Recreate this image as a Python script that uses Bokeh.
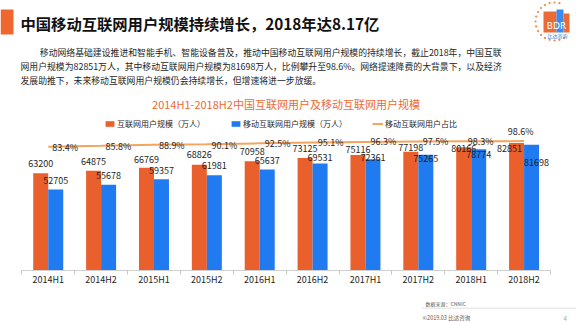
import numpy as np
from bokeh.plotting import figure
from bokeh.models import (Range1d, FixedTicker, ColumnDataSource, Legend, LegendItem)
from bokeh.core.properties import value
from bokeh.transform import dodge
from bokeh.layouts import column
from bokeh.embed import file_html
from bokeh.resources import INLINE

# ---------------- data ----------------
categories = ["2014H1", "2014H2", "2015H1", "2015H2", "2016H1",
              "2016H2", "2017H1", "2017H2", "2018H1", "2018H2"]
internet_users = [63200, 64875, 66769, 68826, 70958, 73125, 75116, 77198, 80166, 82851]
mobile_users = [52705, 55678, 59357, 61981, 65637, 69531, 72361, 75265, 78774, 81698]
mobile_share = [83.4, 85.8, 88.9, 90.1, 92.5, 95.1, 96.3, 97.5, 98.3, 98.6]

series_names = ["互联网用户规模（万人）", "移动互联网用户规模（万人）", "移动互联网用户占比"]
slide_title = "中国移动互联网用户规模持续增长，2018年达8.17亿"
paragraph = ["移动网络基础建设推进和智能手机、智能设备普及，推动中国移动互联网用户规模的持续增长，截止2018年，中国互联",
             "网用户规模为82851万人，其中移动互联网用户规模为81698万人，比例攀升至98.6%。网络提速降费的大背景下，以及经济",
             "发展助推下，未来移动互联网用户规模仍会持续增长，但增速将进一步放缓。"]
chart_title = "2014H1-2018H2中国互联网用户及移动互联网用户规模"
source_note = "数据来源：CNNIC"
copyright_note = "©2019.03  比达咨询"
page_no = "4"

# ---------------- label placement (style, screen px) ----------------
inet_dx = [0, 0, 0, 0, 0, 0, 0, 0, 0, -7]
inet_dy = [-10, -9, -8.7, -9.7, -10, -9.3, -5.7, -4.4, 1.5, 5.4]
mob_dx = [0, 0, 0, 0, 0, 0, 0, 0, 0, 5]
mob_dy = [-9, -9, -8.7, -9.3, -8.6, -5.7, -1.3, 3.3, 5.4, 17.7]
pct_dx = [17, 17.4, 17.8, 17.5, 18, 18, 17.9, 17.2, 9.4, -3.5]
pct_dy = [1, 0.5, 0.5, 0.8, 0, 0, 0, 0, 0.5, -10]

ORANGE = "#EA602D"
BLUE = "#1F7BEF"
LINE = "#F5A45D"
CJK = "Noto Sans CJK SC"
TXT = "#1e1e1e"

W = 576
MAIN_H = 295
FRAME_H = 270

# x: category k centred at k; px = 21.3 + 52.87*(k+0.5)
step = 52.87
x0 = -0.5 - 21.3 / step
x1 = x0 + W / step
ymax = FRAME_H / 0.001538
pct_top = 98.6 + 140.6 / 0.3684
pct_bot = pct_top - FRAME_H / 0.3684

p = figure(width=W, height=MAIN_H, output_backend="svg", toolbar_location=None,
           x_range=Range1d(x0, x1), y_range=Range1d(0, ymax),
           y_axis_location=None, min_border_left=0, min_border_right=0,
           min_border_top=0, min_border_bottom=MAIN_H - FRAME_H)
p.extra_y_ranges = {"pct": Range1d(pct_bot, pct_top), "pxy": Range1d(FRAME_H, 0)}
p.extra_x_ranges = {"px": Range1d(0, W)}
p.outline_line_color = None
p.xgrid.visible = False
p.ygrid.visible = False
p.background_fill_color = "white"
p.border_fill_color = "white"

idx = np.arange(len(categories))
src = ColumnDataSource(dict(
    x=idx, internet=internet_users, mobile=mobile_users, share=mobile_share,
    inet_lbl=[str(v) for v in internet_users], mob_lbl=[str(v) for v in mobile_users],
    pct_lbl=[f"{v:.1f}%" for v in mobile_share],
    inet_dx=inet_dx, inet_dy=inet_dy, mob_dx=mob_dx, mob_dy=mob_dy,
    pct_dx=pct_dx, pct_dy=pct_dy))

bw = 15.0 / step
r_inet = p.vbar(x=dodge("x", -bw / 2, range=p.x_range), top="internet", width=bw,
                fill_color=ORANGE, line_color=None, source=src)
r_mob = p.vbar(x=dodge("x", bw / 2, range=p.x_range), top="mobile", width=bw,
               fill_color=BLUE, line_color=None, source=src)
r_line = p.line(x="x", y="share", y_range_name="pct", line_color=LINE, line_width=2, source=src)

lbl_kw = dict(text_font=value(CJK), text_font_size="9px", text_color=TXT,
              text_align="center", text_baseline="middle", source=src)
p.text(x=dodge("x", -bw / 2, range=p.x_range), y="internet", text="inet_lbl",
       x_offset="inet_dx", y_offset="inet_dy", **lbl_kw)
p.text(x=dodge("x", bw / 2, range=p.x_range), y="mobile", text="mob_lbl",
       x_offset="mob_dx", y_offset="mob_dy", **lbl_kw)
p.text(x="x", y="share", y_range_name="pct", text="pct_lbl",
       x_offset="pct_dx", y_offset="pct_dy", **lbl_kw)

# x axis
ax = p.xaxis[0]
ax.ticker = FixedTicker(ticks=list(idx), minor_ticks=list(np.arange(len(categories) + 1) - 0.5))
ax.major_label_overrides = {int(i): c for i, c in zip(idx, categories)}
ax.bounds = (-0.5, len(categories) - 0.5)
ax.axis_line_color = "#D0D0D0"
ax.major_tick_in = 0
ax.major_tick_out = 0
ax.minor_tick_in = 0
ax.minor_tick_out = 4
ax.minor_tick_line_color = "#C8C8C8"
ax.major_label_text_font = CJK
ax.major_label_text_font_size = "9px"
ax.major_label_text_color = TXT
ax.major_label_standoff = -2

# legend
legend = Legend(items=[LegendItem(label=series_names[0], renderers=[r_inet]),
                       LegendItem(label=series_names[1], renderers=[r_mob]),
                       LegendItem(label=series_names[2], renderers=[r_line])],
                orientation="horizontal", location=(104, FRAME_H - 128.5),
                spacing=25, padding=0, margin=0, glyph_width=11, glyph_height=7,
                label_height=10, label_standoff=2, label_text_font=CJK,
                label_text_font_size="8px", label_text_color=TXT,
                border_line_color=None, background_fill_alpha=0)
p.add_layout(legend)

# slide header (px coordinates from top-left)
px = dict(x_range_name="px", y_range_name="pxy")
p.quad(left=[0], right=[13], top=[9], bottom=[34], fill_color="#F0662F", line_color=None, **px)
p.text(x=[20], y=[22.5], text=[slide_title], text_font=value(CJK), text_font_style="bold",
       text_font_size="15.3px", text_color="#111111", text_baseline="middle", **px)
p.text(x=[39.3, 20, 20], y=[51.7, 65.7, 80], text=paragraph, text_font=value(CJK),
       text_font_size="8.85px", text_color="#262626", text_baseline="middle", **px)
p.text(x=[285.5], y=[103.3], text=[chart_title], text_font=value(CJK),
       text_font_size="11px", text_color="#EE6A35", text_align="center",
       text_baseline="middle", **px)

# logo
t = np.radians(np.linspace(75, 300, 16))
p.scatter(x=554 + 19 * np.cos(t), y=21 - 19 * np.sin(t), size=2.2, marker="circle",
          fill_color="#F08A3C", line_color=None, **px)
p.quad(left=[543, 556, 563], right=[556, 563, 569], top=[11, 9, 13], bottom=[32, 32, 32],
       fill_color=["#EC6A35", "#3A8CF0", "#EC6A35"], line_color=None, **px)
p.text(x=[556], y=[25], text=["BDR"], text_font=value("DejaVu Sans"), text_font_size="9px",
       text_color="white", text_align="center", text_baseline="middle", **px)
p.text(x=[557], y=[35], text=["比达咨询"], text_font=value(CJK), text_font_size="5px",
       text_color="#3A7BD5", text_align="center", text_baseline="middle", **px)

# footer figure
f = figure(width=W, height=322 - MAIN_H, output_backend="svg", toolbar_location=None,
           x_range=Range1d(0, W), y_range=Range1d(322, MAIN_H),
           x_axis_location=None, y_axis_location=None,
           min_border_left=0, min_border_right=0, min_border_top=0, min_border_bottom=0)
f.outline_line_color = None
f.xgrid.visible = False
f.ygrid.visible = False
f.segment(x0=[422], x1=[576], y0=[307.7], y1=[307.7], line_color="#BFBFBF",
          line_width=1, line_dash="1 1")
f.text(x=[425], y=[303.3], text=[source_note], text_font=value(CJK), text_font_size="5px",
       text_color="#595959", text_baseline="middle")
f.text(x=[422], y=[317.5], text=[copyright_note], text_font=value(CJK), text_font_size="5.5px",
       text_color="#595959", text_baseline="middle")
f.text(x=[563], y=[317.5], text=[page_no], text_font=value(CJK), text_font_size="6px",
       text_color="#A0A0A0", text_baseline="middle")

layout = column(p, f, spacing=0)
open("out.html", "w").write(file_html(layout, INLINE))
